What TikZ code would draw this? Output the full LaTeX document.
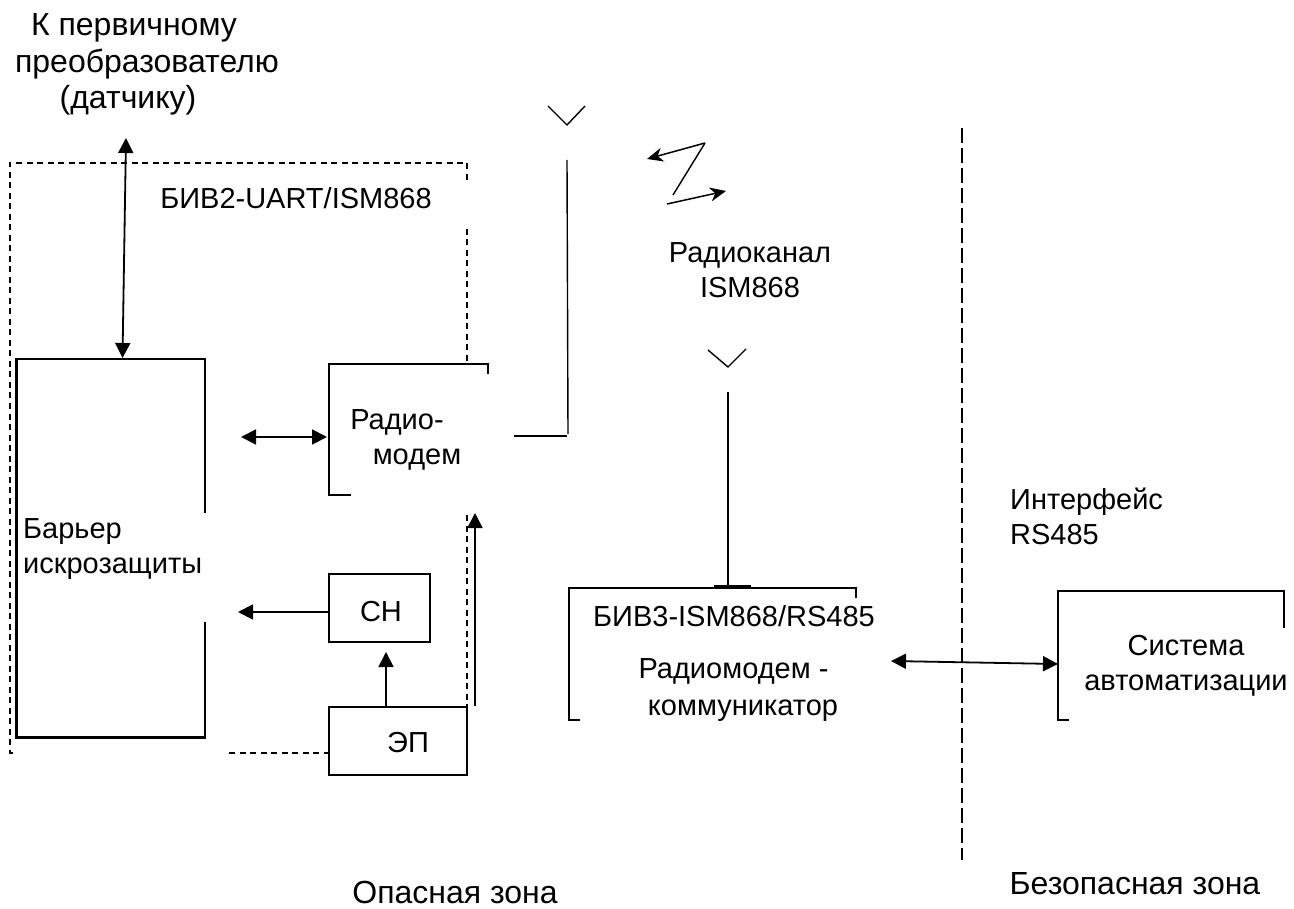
\documentclass[tikz,border=0pt]{standalone}
\usepackage{fontspec}
\setmainfont{Liberation Sans}
\usetikzlibrary{arrows.meta}
\tikzset{
  box/.style={line width=2.1pt,line cap=butt,line join=miter},
  rectbox/.style={draw,line width=2.1pt,rectangle,inner sep=0pt},
  zone/.style={line width=1.4pt,dash pattern=on 6pt off 4.5pt},
  wire/.style={line width=1.4pt},
  dbl/.style={line width=1.8pt,{Triangle[length=15pt,width=15pt]}-{Triangle[length=15pt,width=15pt]}},
  one/.style={line width=1.8pt,-{Triangle[length=15pt,width=15pt]}},
  thin arrow/.style={line width=1.5pt,-{Stealth[length=16pt,width=14pt,inset=5pt]}},
  lbl/.style={font=\fontsize{29}{35}\selectfont,align=center,inner sep=0pt},
  lbll/.style={lbl,align=left},
  lblb/.style={lbl,font=\fontsize{32}{36.5}\selectfont}
}
\begin{document}
\begin{tikzpicture}[x=1pt,y=-1pt]
\useasboundingbox (0,0) rectangle (1294,909);
% text
\node[lblb] (sensor) at (147,64.5) {\hspace*{-26pt}К первичному\\преобразователю\\\hspace*{-38pt}(датчику)};
\node[lbl] (biv2) at (296,198) {БИВ2-UART/ISM868};
\node[lbl] (rkan) at (750,270) {Радиоканал\\ISM868};
\node[lbl] (rmod) at (407,440) {\hspace*{-20pt}Радио-\\\hspace*{20pt}модем};
\node[lbll,anchor=west] (barrier) at (23,549.5) {Барьер\\искрозащиты};
\node[lbl] (chl) at (381,612) {СН};
\node[lbl] (epl) at (408,743) {ЭП};
\node[lbl] (biv3) at (734,616) {БИВ3-ISM868/RS485};
\node[lbl,font=\fontsize{29}{37}\selectfont] (rmk) at (738,690) {\hspace*{-9pt}Радиомодем -\\\hspace*{10pt}коммуникатор};
\node[lbl] (sys) at (1186,666) {Система\\автоматизации};
\node[lbll,anchor=west] (iface) at (1010,516) {Интерфейс\\RS485};
\node[lblb] (danger) at (455,892) {Опасная зона};
\node[lblb] (safe) at (1135,883.5) {Безопасная зона};
% dashed frame
\coordinate (fa) at (467,180);
\coordinate (fb) at (467,163);
\coordinate (fc) at (10,163);
\coordinate (fd) at (10,753);
\coordinate (fe) at (15,753);
\coordinate (ff) at (467,229);
\coordinate (fg) at (467,362);
\coordinate (fh) at (467,515);
\coordinate (fi) at (467,706);
\coordinate (fj) at (229,753);
\draw[zone] (fa) -- (fb) -- (fc) -- (fd) -- (fe);
\draw[zone] (ff) -- (fg);
\draw[zone] (fh) -- (fi);
% barrier
\coordinate (ba) at (205,513);
\coordinate (bb) at (205,359);
\coordinate (bc) at (16.5,359);
\coordinate (bd) at (16.5,737.5);
\coordinate (be) at (205,737.5);
\coordinate (bf) at (205,622);
\draw[box] (ba) -- (bb) -- (bc) -- (bd) -- (be) -- (bf);
% radio modem
\coordinate (ma) at (488,374);
\coordinate (mb) at (488,364);
\coordinate (mc) at (329,364);
\coordinate (md) at (329,495);
\coordinate (me) at (351,495);
\draw[box] (ma) -- (mb) -- (mc) -- (md) -- (me);
% CH and EP
\node[rectbox,minimum width=101pt,minimum height=68pt] (ch) at (379.5,608) {};
\node[rectbox,minimum width=138pt,minimum height=68pt] (ep) at (398,741) {};
\coordinate (fk) at (ep.west |- fj);
\draw[zone] (fj) -- (fk);
% BIV3 box
\coordinate (ca) at (856,598);
\coordinate (cb) at (856,588);
\coordinate (cc) at (569,588);
\coordinate (cd) at (569,720);
\coordinate (ce) at (580,720);
\draw[box] (ca) -- (cb) -- (cc) -- (cd) -- (ce);
\coordinate (cf) at (714,586.5);
\coordinate (cg) at (751,586.5);
\draw[box] (cf) -- (cg);
% system box
\coordinate (sa) at (1284,628);
\coordinate (sb) at (1284,591);
\coordinate (sc) at (1058,591);
\coordinate (sd) at (1058,720);
\coordinate (se) at (1069,720);
\draw[box] (sa) -- (sb) -- (sc) -- (sd) -- (se);
% arrows
\coordinate (up) at (126,138);
\coordinate (bt) at (122.5,358);
\draw[dbl] (up) -- (bt);
\coordinate (l1) at (241,437);
\coordinate (r1) at (327,437);
\draw[dbl] (l1) -- (r1);
\coordinate (l2) at (238,612);
\coordinate (r2) at (ch.west |- l2);
\draw[one] (r2) -- (l2);
\coordinate (t3) at (386,652);
\coordinate (b3) at (t3 |- ep.north);
\draw[one] (b3) -- (t3);
\coordinate (t4) at (475,513);
\coordinate (b4) at (475,706);
\draw[one] (b4) -- (t4);
\coordinate (l5) at (891,661);
\coordinate (r5) at (1058,664);
\draw[dbl] (l5) -- (r5);
% divider
\coordinate (d1) at (962,128);
\coordinate (d2) at (962,860);
\draw[line width=1.3pt,dash pattern=on 15pt off 5pt] (d1) -- (d2);
% antenna 1
\coordinate (a1) at (548,106);
\coordinate (a2) at (567,125);
\coordinate (a3) at (585,106);
\draw[wire] (a1) -- (a2) -- (a3);
\coordinate (a4) at (567,160);
\coordinate (a5) at (568,434);
\draw[wire] (a4) -- (a5);
\coordinate (a6) at (514,436);
\coordinate (a7) at (567,436);
\draw[wire] (a6) -- (a7);
% antenna 2
\coordinate (e1) at (708,350);
\coordinate (e2) at (728,367);
\coordinate (e3) at (746,349);
\draw[wire] (e1) -- (e2) -- (e3);
\coordinate (e4) at (728,392);
\coordinate (e5) at (728,585);
\draw[wire] (e4) -- (e5);
% zigzag
\coordinate (z1) at (705,143);
\coordinate (z2) at (647,159);
\coordinate (z3) at (673,195);
\coordinate (z4) at (667,204);
\coordinate (z5) at (726,191);
\draw[thin arrow] (z1) -- (z2);
\draw[wire] (z1) -- (z3);
\draw[thin arrow] (z4) -- (z5);
\end{tikzpicture}
\end{document}
